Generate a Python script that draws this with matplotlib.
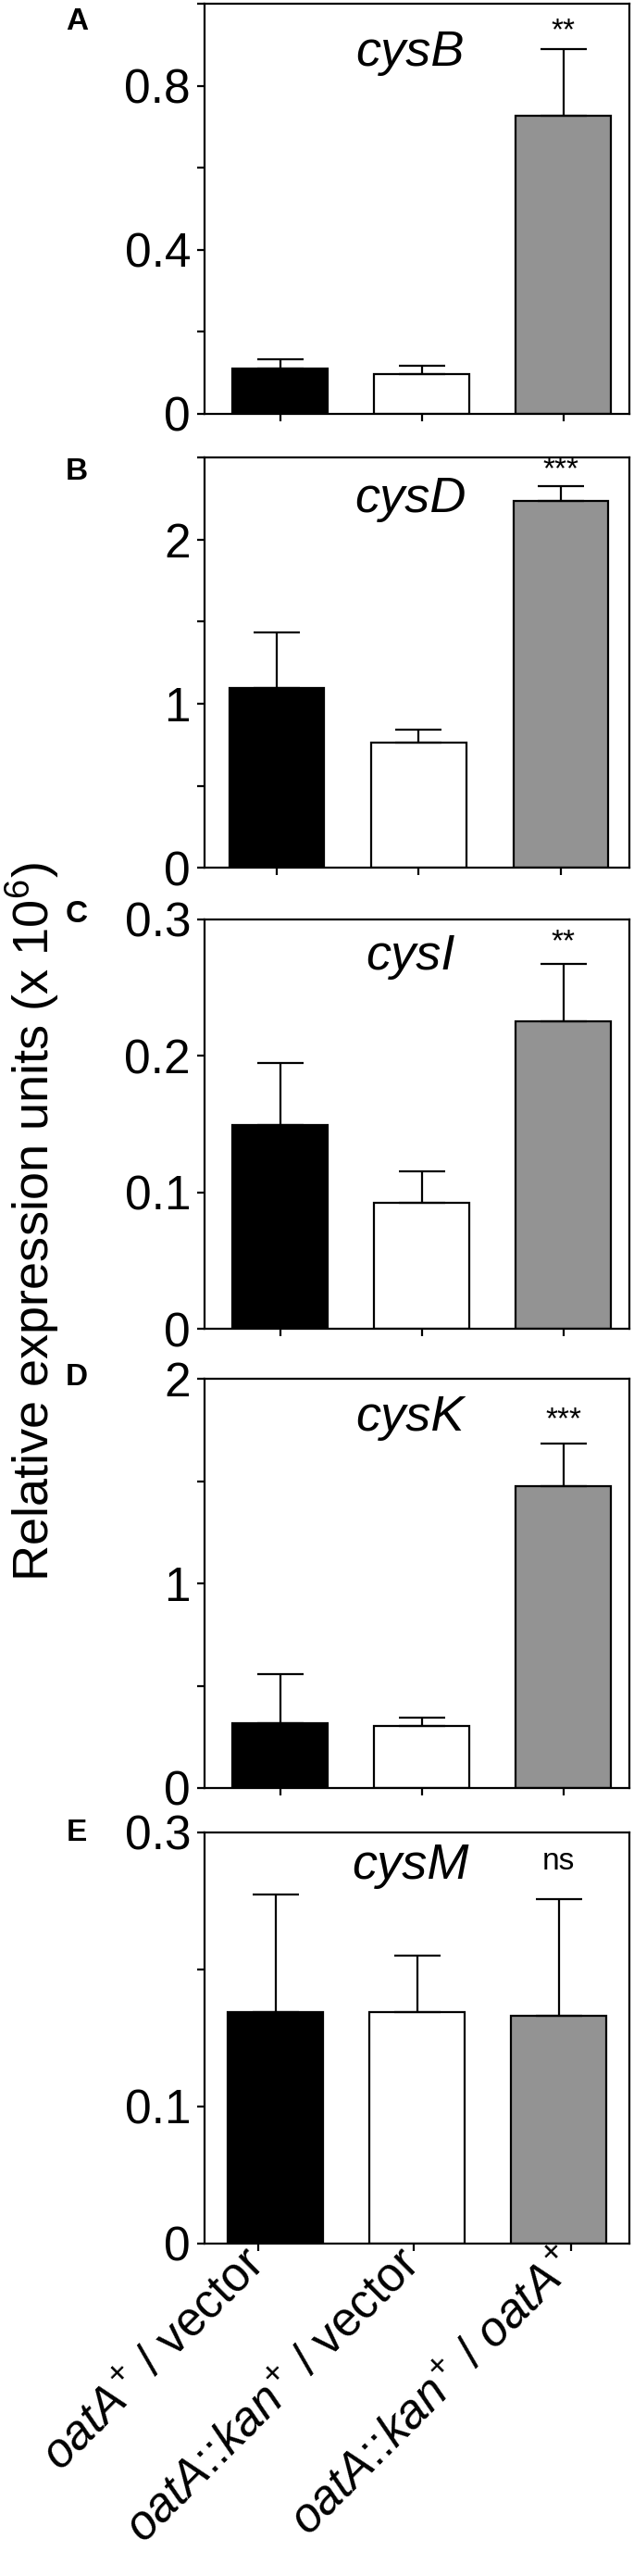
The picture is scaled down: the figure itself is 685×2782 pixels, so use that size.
import matplotlib

matplotlib.use("Agg")
import matplotlib.pyplot as plt

plt.rcParams["font.family"] = ["Liberation Sans", "DejaVu Sans"]
plt.rcParams["mathtext.fontset"] = "custom"
plt.rcParams["mathtext.rm"] = "Liberation Sans"
plt.rcParams["mathtext.it"] = "Liberation Sans:italic"
plt.rcParams["mathtext.bf"] = "Liberation Sans:bold"

# data
strains = [r"$\mathit{oatA}^{+}$ / vector",
           r"$\mathit{oatA}$::$\mathit{kan}^{+}$ / vector",
           r"$\mathit{oatA}$::$\mathit{kan}^{+}$ / $\mathit{oatA}^{+}$"]
genes = ["cysB", "cysD", "cysI", "cysK", "cysM"]
panels = ["A", "B", "C", "D", "E"]

cysB_mean = [0.110, 0.097, 0.726]
cysB_err = [0.023, 0.020, 0.164]
cysD_mean = [1.095, 0.762, 2.235]
cysD_err = [0.338, 0.081, 0.090]
cysI_mean = [0.149, 0.092, 0.225]
cysI_err = [0.046, 0.023, 0.042]
cysK_mean = [0.317, 0.305, 1.476]
cysK_err = [0.241, 0.041, 0.209]
cysM_mean = [0.169, 0.169, 0.166]
cysM_err = [0.086, 0.041, 0.085]

signif = ["**", "***", "**", "***", "ns"]
signif_y = [0.933, 2.425, 0.283, 1.796, 0.279]

ylims = [1.0, 2.5, 0.3, 2.0, 0.3]
yticks = [[0, 0.2, 0.4, 0.6, 0.8, 1.0],
          [0, 0.5, 1, 1.5, 2, 2.5],
          [0, 0.1, 0.2, 0.3],
          [0, 0.5, 1, 1.5, 2],
          [0, 0.1, 0.2, 0.3]]
yticklabels = [["0", "", "0.4", "", "0.8", ""],
               ["0", "", "1", "", "2", ""],
               ["0", "0.1", "0.2", "0.3"],
               ["0", "", "1", "", "2"],
               ["0", "0.1", "", "0.3"]]

means = [cysB_mean, cysD_mean, cysI_mean, cysK_mean, cysM_mean]
errs = [cysB_err, cysD_err, cysI_err, cysK_err, cysM_err]
colors = ["black", "white", "#939393"]

# layout (pixels)
W, H = 685, 2782
ax_left, ax_right = 220.7, 680
ax_tops = [4, 494, 992.7, 1489, 1979]
ax_bottoms = [447, 937.3, 1435, 1931, 2422.7]
xlims = [(-0.536, 2.467), (-0.51, 2.482), (-0.536, 2.467), (-0.536, 2.467), (-0.503, 2.5)]
title_off = [28, 20, 15, 17, 11]
letter_y = [23, 510, 988, 1488, 1980]

fig = plt.figure(figsize=(W / 100, H / 100), dpi=100)

x = [0, 1, 2]
for i in range(5):
    ax = fig.add_axes([ax_left / W, 1 - ax_bottoms[i] / H,
                       (ax_right - ax_left) / W, (ax_bottoms[i] - ax_tops[i]) / H])
    ax.bar(x, means[i], width=0.67, color=colors, edgecolor="black", linewidth=1.6, zorder=2)
    ax.errorbar(x, means[i], yerr=[[0, 0, 0], errs[i]], fmt="none", ecolor="black",
                elinewidth=1.6, capsize=18, capthick=1.6, zorder=3)
    ax.set_xlim(*xlims[i])
    ax.set_ylim(0, ylims[i])
    ax.set_yticks(yticks[i])
    ax.set_yticklabels(yticklabels[i], fontsize=37)
    for s in ax.spines.values():
        s.set_linewidth(1.6)
    ax.tick_params(axis="both", direction="out", length=5.5, width=1.6, pad=5)
    ax.text(0.484, 1 - title_off[i] / (ax_bottoms[i] - ax_tops[i]), genes[i],
            transform=ax.transAxes, ha="center", va="top", fontsize=39, style="italic")
    ax.text(2, signif_y[i], signif[i], ha="center", va="center", fontsize=24)
    fig.text(83 / W, 1 - letter_y[i] / H, panels[i], ha="center", va="center",
             fontsize=24, fontweight="bold")
    if i < 4:
        ax.set_xticks(x)
        ax.set_xticklabels([])
    else:
        ax.set_xticks([-0.125, 0.975, 2.086])
        ax.set_xticklabels(strains, fontsize=37, rotation=45, ha="right",
                           va="center", rotation_mode="anchor")

fig.text(4 / W, 1 - 1319.5 / H, r"Relative expression units (x 10$^{6}$)",
         rotation=90, ha="left", va="center", fontsize=39)

fig.savefig("out.png", dpi=100)
